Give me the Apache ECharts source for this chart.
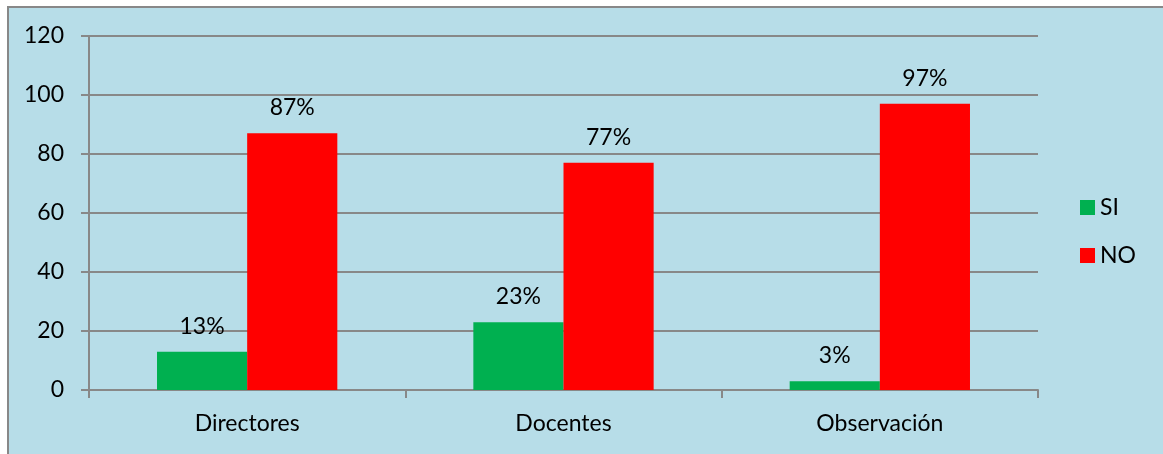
<!DOCTYPE html>
<html>
<head>
<meta charset="utf-8">
<script src="https://cdn.jsdelivr.net/npm/echarts@6/dist/echarts.min.js"></script>
<style>
html,body{margin:0;padding:0;background:#fff;width:1163px;height:454px;overflow:hidden;}
#bg{position:absolute;left:7px;top:6px;width:1160px;height:470px;background:#b7dde8;border:2px solid #888;box-sizing:border-box;}
#chart{position:absolute;left:0;top:0;width:1163px;height:454px;}
</style>
</head>
<body>
<div id="bg"></div>
<div id="chart"></div>
<script>
const categories = ['Directores', 'Docentes', 'Observación'];
const siValues = [13, 23, 3];
const noValues = [87, 77, 97];
const yTicks = [0, 20, 40, 60, 80, 100, 120];

const FONT = 'Lato';
const FS = 23;
const chart = echarts.init(document.getElementById('chart'), null, {renderer: 'canvas'});
const labelCfg = {
  show: true, position: 'top', distance: 14,
  color: '#000', fontFamily: FONT, fontSize: FS,
  formatter: p => p.value + '%'
};
chart.setOption({
  backgroundColor: 'transparent',
  animation: false,
  grid: {left: 89, right: 125, top: 36, bottom: 64, containLabel: false},
  legend: {
    orient: 'vertical', left: 1080, top: 196, padding: 0,
    itemWidth: 15, itemHeight: 15, itemGap: 25,
    icon: 'rect',
    textStyle: {fontFamily: FONT, fontSize: FS, color: '#000'},
    data: ['SI', 'NO']
  },
  xAxis: {
    type: 'category', data: categories,
    axisLine: {lineStyle: {color: '#888', width: 2}},
    axisTick: {show: true, length: 8, lineStyle: {color: '#888', width: 2}},
    axisLabel: {fontFamily: FONT, fontSize: FS, color: '#000', margin: 22}
  },
  yAxis: {
    type: 'value', min: yTicks[0], max: yTicks[yTicks.length - 1], interval: 20,
    axisLine: {show: true, lineStyle: {color: '#888', width: 2}},
    axisTick: {show: true, length: 8, lineStyle: {color: '#888', width: 2}},
    splitLine: {lineStyle: {color: '#888', width: 2}},
    axisLabel: {fontFamily: FONT, fontSize: FS, color: '#000', margin: 25,
      formatter: v => yTicks.includes(v) ? String(v) : ''}
  },
  series: [
    {name: 'SI', type: 'bar', data: siValues, barGap: '0%', barCategoryGap: '43%',
     itemStyle: {color: '#00b050'}, label: labelCfg},
    {name: 'NO', type: 'bar', data: noValues, barGap: '0%', barCategoryGap: '43%',
     itemStyle: {color: '#ff0000'}, label: labelCfg}
  ]
});
</script>
</body>
</html>
